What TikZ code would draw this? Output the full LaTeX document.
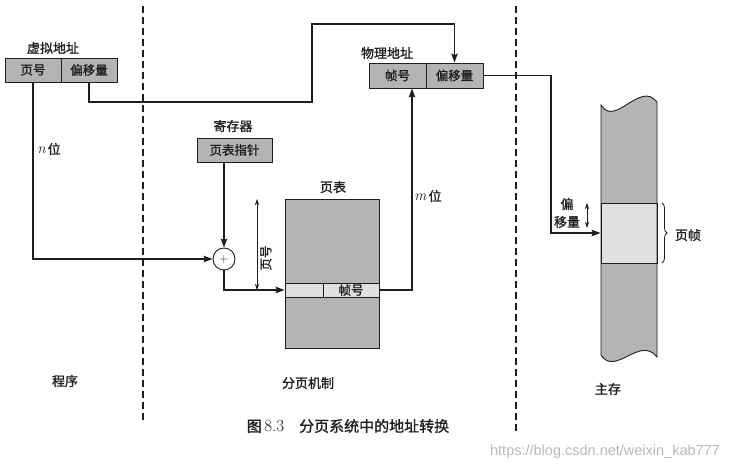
\documentclass[tikz,border=0pt]{standalone}
\usepackage{fontspec}
\newfontfamily\cjk{Noto Sans CJK SC}[FakeBold=1.2]
\newfontfamily\wm{Liberation Sans}
\usetikzlibrary{arrows.meta,decorations.pathreplacing}
\definecolor{boxgray}{RGB}{180,180,180}
\definecolor{lightgray2}{RGB}{224,224,224}
\definecolor{ink}{RGB}{30,30,30}
\tikzset{
  box/.style={draw, fill=boxgray, minimum height=24pt, inner sep=0pt, line width=0.9pt, font=\cjk\fontsize{12.5}{12.5}\selectfont},
  lbl/.style={font=\cjk\fontsize{13}{13}\selectfont, inner sep=1pt},
  arr/.style={-{Stealth[length=9pt,width=6.5pt,inset=1.5pt]}, line width=1.4pt},
  dimarr/.style={{Stealth[length=6pt,width=4pt]}-{Stealth[length=6pt,width=4pt]}, line width=0.7pt},
  sepline/.style={dash pattern=on 7pt off 4pt, line width=1.4pt},
}
\begin{document}
\begin{tikzpicture}[x=1pt,y=-1pt,color=ink]
\useasboundingbox (0,0) rectangle (740,471);
\fill[white] (0,0) rectangle (740,471);

% separators
\draw[sepline] (143,6) -- (143,420);
\draw[sepline] (516,6) -- (516,432);

% virtual address
\node[lbl] (vlabel) at (53,48) {虚拟地址};
\node[box, minimum width=56pt] (vpn) at (33,70) {页号};
\node[box, minimum width=56pt] (voff) at (89,70) {偏移量};

% register
\node[lbl] (rlabel) at (233,126) {寄存器};
\node[box, minimum width=75pt] (ptr) at (234.5,150) {页表指针};
\node[draw, circle, fill=white, minimum size=22pt, inner sep=0pt, line width=0.9pt, font=\fontsize{12}{12}\selectfont] (adder) at (224,259) {$+$};

% page table
\node[lbl] (tlabel) at (333,187) {页表};
\node[draw, fill=boxgray, minimum width=94pt, minimum height=149pt, inner sep=0pt, line width=0.9pt] (ptab) at (332,273.5) {};
\node[draw, fill=lightgray2, minimum width=38pt, minimum height=14pt, inner sep=0pt, line width=0.9pt] (rowl) at (304,290) {};
\node[draw, fill=lightgray2, minimum width=56pt, minimum height=14pt, inner sep=0pt, line width=0.9pt, font=\cjk\fontsize{12.5}{12.5}\selectfont] (rowr) at (351,290) {帧号};

% physical address
\node[lbl] (plabel) at (387,53) {物理地址};
\node[box, minimum width=57pt, minimum height=25pt] (pfn) at (397.5,75.5) {帧号};
\node[box, minimum width=57pt, minimum height=25pt] (poff) at (454.5,75.5) {偏移量};

% main memory
\fill[boxgray] (601,105) .. controls (615,128) and (640,80) .. (657,102) -- (657,357) .. controls (640,335) and (615,377) .. (601,355) -- cycle;
\node[draw, fill=lightgray2, minimum width=56pt, minimum height=60pt, inner sep=0pt, line width=0.9pt] (frame) at (629,233) {};
\draw[line width=0.9pt] (601,105) .. controls (615,128) and (640,80) .. (657,102) -- (657,357) .. controls (640,335) and (615,377) .. (601,355) -- cycle;

% connectors
\draw[arr] (vpn.south) |- (adder.west);
\draw[arr] (voff.south) |- (312,102) -- (312,24) -| (poff.north);
\draw[arr] (ptr.south -| adder.north) -- (adder.north);
\draw[arr] (adder.south) |- (rowl.west);
\draw[arr] (rowr.east) -| ([xshift=14.5pt]pfn.south);
\draw[arr] (poff.east) -| (551,200) |- (frame.west);

% labels
\node[lbl] (nbits) at (49,149) {{\normalfont\fontsize{15}{15}\selectfont\itshape n}\,位};
\node[lbl] (mbits) at (428,196) {{\normalfont\fontsize{15}{15}\selectfont\itshape m}\,位};
\draw[dimarr] (257,199) -- (257,290);
\node[lbl, rotate=90, font=\cjk\fontsize{12.5}{12.5}\selectfont] (pnum) at (266,258) {页号};
\draw[dimarr] (587,203) -- (587,228);
\node[lbl, align=center, font=\cjk\fontsize{13}{18}\selectfont] (offl) at (567,213) {偏\\移量};
\draw[decorate, decoration={brace, amplitude=5pt}, line width=0.8pt] (662,203) -- (662,263);
\node[lbl] (pframe) at (688,235) {页帧};

% bottom labels
\node[lbl] (prog) at (65,381) {程序};
\node[lbl] (pmech) at (308,383) {分页机制};
\node[lbl] (mmem) at (608,389) {主存};

% caption
\node[font=\fontsize{15}{15}\selectfont] (cap) at (348,426) {{\cjk 图}\,{\fontsize{17}{17}\selectfont 8.3}\quad{\cjk 分页系统中的地址转换}};
\node[font=\wm\fontsize{14.5}{14.5}\selectfont, text=gray!55] (wmark) at (605,452) {https://blog.csdn.net/weixin\_kab777};
\end{tikzpicture}
\end{document}
